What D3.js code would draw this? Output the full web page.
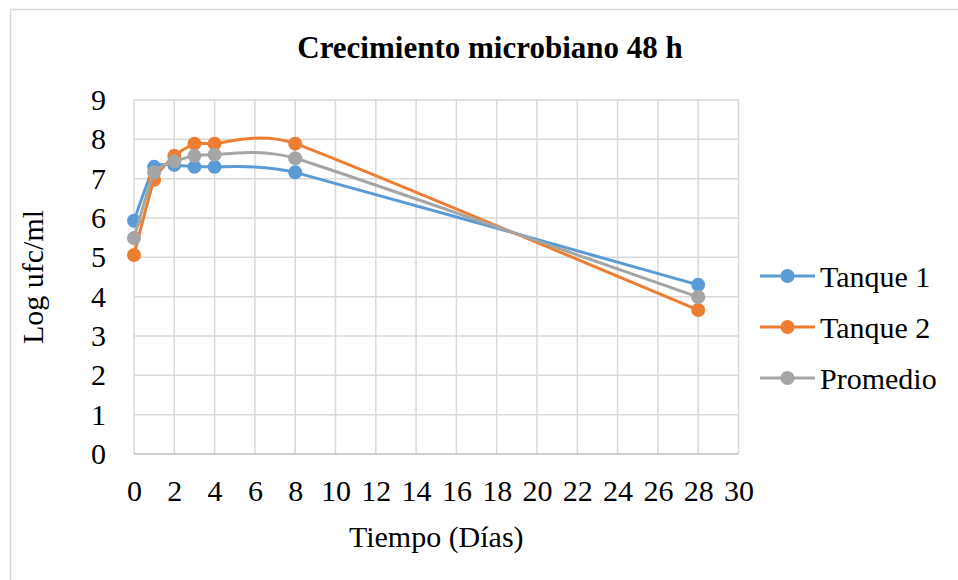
<!DOCTYPE html>
<html>
<head>
<meta charset="utf-8">
<script src="https://cdn.jsdelivr.net/npm/d3@7"></script>
<style>
  body { margin: 0; background: #fff; }
  svg { display: block; font-family: "Liberation Serif", "Times New Roman", serif; }
</style>
</head>
<body>
<main></main>
<script>
// Data
var dias = [0, 1, 2, 3, 4, 8, 28]
var tanque1 = [5.93, 7.30, 7.35, 7.30, 7.30, 7.16, 4.30]
var tanque2 = [5.06, 6.97, 7.58, 7.89, 7.89, 7.89, 3.66]
var promedio = [5.49, 7.16, 7.44, 7.58, 7.61, 7.52, 3.99]
var seriesNames = ['Tanque 1', 'Tanque 2', 'Promedio']
var seriesColors = ['#5b9bd5', '#ed7d31', '#a5a5a5']
var xTicks = d3.range(0, 31, 2)
var yTicks = d3.range(0, 10, 1)

var width = 958
var height = 580
var plot = { left: 134, right: 738.5, top: 100, bottom: 454 }

var svg = d3.select('main')
    .append('svg')
    .attr('width', width)
    .attr('height', height)

// chart frame
svg.append('rect')
    .attr('x', 10.5).attr('y', 9.5)
    .attr('width', 980).attr('height', 600)
    .attr('fill', '#fff')
    .attr('stroke', '#d9d9d9')
    .attr('stroke-width', 1.5)

var x = d3.scaleLinear().domain([0, 30]).range([plot.left, plot.right])
var y = d3.scaleLinear().domain([0, 9]).range([plot.bottom, plot.top])

// grid
svg.append('g')
    .selectAll('line')
    .data(xTicks)
    .enter()
    .append('line')
    .attr('x1', d => x(d)).attr('x2', d => x(d))
    .attr('y1', y(0)).attr('y2', y(9))
    .attr('stroke', '#d9d9d9')
    .attr('stroke-width', 1.5)

svg.append('g')
    .selectAll('line')
    .data(yTicks.filter(d => d > 0))
    .enter()
    .append('line')
    .attr('x1', x(0)).attr('x2', x(30))
    .attr('y1', d => y(d)).attr('y2', d => y(d))
    .attr('stroke', '#d9d9d9')
    .attr('stroke-width', 1.5)

// bottom axis line
svg.append('line')
    .attr('x1', x(0)).attr('x2', x(30))
    .attr('y1', y(0)).attr('y2', y(0))
    .attr('stroke', '#bfbfbf')
    .attr('stroke-width', 1.5)

// axes labels via d3 axis, then strip the domain/ticks
var xAxis = svg.append('g')
    .attr('transform', 'translate(0,' + y(0) + ')')
    .call(d3.axisBottom(x).tickValues(xTicks).tickSize(0).tickPadding(26))
xAxis.attr('font-family', null).attr('font-size', 30)
xAxis.select('.domain').remove()
xAxis.selectAll('text').attr('fill', '#000')

var yAxis = svg.append('g')
    .attr('transform', 'translate(' + x(0) + ',0)')
    .call(d3.axisLeft(y).tickValues(yTicks).tickSize(0).tickPadding(28))
yAxis.attr('font-family', null).attr('font-size', 30)
yAxis.select('.domain').remove()
yAxis.selectAll('text').attr('fill', '#000')

// titles
svg.append('text')
    .attr('x', 490).attr('y', 58)
    .attr('text-anchor', 'middle')
    .attr('font-size', 31)
    .attr('font-weight', 'bold')
    .text('Crecimiento microbiano 48 h')

svg.append('text')
    .attr('x', (x(0) + x(30)) / 2).attr('y', 547)
    .attr('text-anchor', 'middle')
    .attr('font-size', 30)
    .text('Tiempo (Días)')

svg.append('text')
    .attr('transform', 'translate(43,' + (y(0) + y(9)) / 2 + ') rotate(-90)')
    .attr('text-anchor', 'middle')
    .attr('font-size', 30)
    .text('Log ufc/ml')

// series (smoothed like the spreadsheet)
var allSeries = [tanque1, tanque2, promedio]
var line = d3.line()
    .x((d, i) => x(dias[i]))
    .y(d => y(d))
    .curve(d3.curveCardinal.tension(0.55))

allSeries.forEach(function (vals, s) {
    var g = svg.append('g')
    g.append('path')
        .attr('d', line(vals))
        .attr('fill', 'none')
        .attr('stroke', seriesColors[s])
        .attr('stroke-width', 3)
        .attr('stroke-linejoin', 'round')
    g.selectAll('circle')
        .data(vals)
        .enter()
        .append('circle')
        .attr('cx', (d, i) => x(dias[i]))
        .attr('cy', d => y(d))
        .attr('r', 7)
        .attr('fill', seriesColors[s])
})

// legend
var legend = svg.append('g')
    .selectAll('g')
    .data(seriesNames)
    .enter()
    .append('g')
    .attr('transform', (d, i) => 'translate(760,' + (276 + i * 51) + ')')

legend.append('line')
    .attr('x1', 0).attr('x2', 55)
    .attr('stroke', (d, i) => seriesColors[i])
    .attr('stroke-width', 3)
legend.append('circle')
    .attr('cx', 27.5)
    .attr('r', 7)
    .attr('fill', (d, i) => seriesColors[i])
legend.append('text')
    .attr('x', 60)
    .attr('dy', '0.35em')
    .attr('font-size', 30)
    .text(d => d)
</script>
</body>
</html>
